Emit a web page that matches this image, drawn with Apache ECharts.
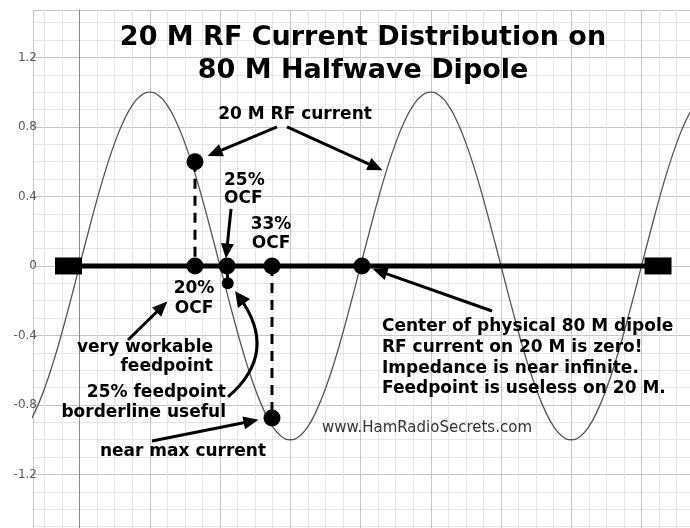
<!DOCTYPE html>
<html><head><meta charset="utf-8">
<script src="https://cdn.jsdelivr.net/npm/echarts@6/dist/echarts.min.js"></script>
<style>html,body{margin:0;padding:0;background:#fff}#c{width:690px;height:528px}</style>
</head><body><div id="c"></div>
<script>
// ---- data ----
const curveX = [-0.75,-0.625,-0.5,-0.375,-0.25,-0.125,0,0.125,0.25,0.375,0.5,0.625,0.75,0.875,1,1.125,1.25,1.375,1.5,1.625,1.75,1.875,2,2.125,2.25,2.375,2.5,2.625,2.75,2.875,3,3.125,3.25,3.375,3.5,3.625,3.75,3.875,4,4.125,4.25,4.375,4.5,4.625,4.75,4.875,5,5.125,5.25,5.375,5.5,5.625,5.75,5.875,6,6.125,6.25,6.375,6.5,6.625,6.75,6.875,7,7.125,7.25,7.375,7.5,7.625,7.75,7.875,8,8.125,8.25,8.375,8.5,8.625,8.75];
const curveY = [-0.924,-0.831,-0.707,-0.556,-0.383,-0.195,0,0.195,0.383,0.556,0.707,0.831,0.924,0.981,1,0.981,0.924,0.831,0.707,0.556,0.383,0.195,0,-0.195,-0.383,-0.556,-0.707,-0.831,-0.924,-0.981,-1,-0.981,-0.924,-0.831,-0.707,-0.556,-0.383,-0.195,0,0.195,0.383,0.556,0.707,0.831,0.924,0.981,1,0.981,0.924,0.831,0.707,0.556,0.383,0.195,0,-0.195,-0.383,-0.556,-0.707,-0.831,-0.924,-0.981,-1,-0.981,-0.924,-0.831,-0.707,-0.556,-0.383,-0.195,0,0.195,0.383,0.556,0.707,0.831,0.924];
const dipoleEndsX = [-0.157, 8.235];
const axisDotsX = [1.644, 2.10, 2.74, 4.02];
const upperDot = [1.644, 0.60];
const lowerDot = [2.74, -0.875];
const smallDot = [2.11, -0.10];
const yTickLabels = ['-1.2','-0.8','-0.4','0','0.4','0.8','1.2'];
// annotation arrows (start, end) in data units
const arrowsStraight = [
  [[2.811, 0.800], [1.922, 0.649]],
  [[2.954, 0.800], [4.215, 0.569]],
  [[2.157, 0.328], [2.095, 0.086]],
  [[0.690, -0.426], [1.174, -0.235]],
  [[1.032, -1.007], [2.443, -0.894]],
  [[5.872, -0.259], [4.272, -0.031]]
];
const arrowCurved = [[2.114, -0.754], [2.278, -0.181]];

// ---- view ----
const xMin = -0.662, xMax = 8.690, yMin = -1.508, yMax = 1.473;
const FONT = '"DejaVu Sans", Verdana, sans-serif';

const chart = echarts.init(document.getElementById('c'), null, {renderer: 'canvas'});

const curveData = curveX.map((x, i) => [x, curveY[i]]);
const markData = arrowsStraight.map(a => [{coord: a[0]}, {coord: a[1]}]);

function txt(x, y, text, opts) {
  return {
    type: 'text', x: x, y: y, z: 100, silent: true,
    style: Object.assign({
      text: text, font: 'bold 17px ' + FONT, fill: '#000',
      align: 'center', verticalAlign: 'middle', lineHeight: 20
    }, opts || {})
  };
}

const option = {
  animation: false,
  backgroundColor: '#fff',
  grid: {left: 33, top: 10, right: 0, bottom: 0, containLabel: false, outerBoundsMode: 'none'},
  xAxis: {
    type: 'value', min: xMin, max: xMax, splitNumber: 9, minInterval: 1, maxInterval: 1,
    axisLine: {show: false}, axisTick: {show: false}, axisLabel: {show: false},
    splitLine: {show: true, lineStyle: {color: '#c6c6c6', width: 1}},
    minorTick: {show: false, splitNumber: 4},
    minorSplitLine: {show: true, lineStyle: {color: '#e6e6e6', width: 1}}
  },
  yAxis: {
    type: 'value', min: yMin, max: yMax, minInterval: 0.4, maxInterval: 0.4,
    axisLine: {show: true, lineStyle: {color: '#8a8a8a', width: 1}},
    axisTick: {show: false},
    axisLabel: {
      show: true, margin: -4, color: '#5a5a62', fontSize: 12, fontFamily: FONT,
      showMinLabel: false, showMaxLabel: false,
      formatter: v => {
        const s = String(+(+v).toFixed(1));
        return yTickLabels.indexOf(s) >= 0 ? s : '';
      }
    },
    splitLine: {show: true, lineStyle: {color: '#c6c6c6', width: 1}},
    minorTick: {show: false, splitNumber: 4},
    minorSplitLine: {show: true, lineStyle: {color: '#e6e6e6', width: 1}}
  },
  series: [
    {
      type: 'line', name: 'curve', data: curveData, smooth: true, showSymbol: false, symbol: 'none',
      lineStyle: {color: '#555', width: 1.3}, z: 2, silent: true
    },
    {
      type: 'line', name: 'dipole', data: dipoleEndsX.map(x => [x, 0]),
      symbol: 'rect', symbolSize: [27, 17], showSymbol: true,
      itemStyle: {color: '#000', opacity: 1}, lineStyle: {color: '#000', width: 5}, z: 3, silent: true
    },
    {
      type: 'line', name: 'dash1', data: [upperDot, [upperDot[0], 0]], symbol: 'none',
      lineStyle: {color: '#000', width: 3, type: [10, 7]}, z: 3, silent: true
    },
    {
      type: 'line', name: 'dash2', data: [[lowerDot[0], 0], lowerDot], symbol: 'none',
      lineStyle: {color: '#000', width: 3, type: [10, 7]}, z: 3, silent: true
    },
    {
      type: 'line', name: 'seg', data: [[axisDotsX[1], 0], smallDot], symbol: 'none',
      lineStyle: {color: '#000', width: 3}, z: 3, silent: true
    },
    {
      type: 'scatter', name: 'dots', data: axisDotsX.map(x => [x, 0]).concat([upperDot, lowerDot]),
      symbolSize: 17, itemStyle: {color: '#000', opacity: 1}, z: 4, silent: true,
      markLine: {
        silent: true, symbol: ['none', 'triangle'], symbolSize: [13, 15],
        label: {show: false}, emphasis: {disabled: true},
        lineStyle: {color: '#000', width: 3, type: 'solid', opacity: 1},
        data: markData
      }
    },
    {
      type: 'scatter', name: 'small', data: [smallDot], symbolSize: [12, 12],
      itemStyle: {color: '#000', opacity: 1}, z: 4, silent: true
    },
    {
      type: 'lines', name: 'curvedArrow', coordinateSystem: 'cartesian2d', silent: true, z: 5,
      symbol: ['none', 'triangle'], symbolSize: [13, 15],
      lineStyle: {color: '#000', width: 3, opacity: 1, curveness: -0.46},
      itemStyle: {color: '#000'},
      data: [{coords: arrowCurved}]
    }
  ],
  graphic: [
    txt(363, 38, '20 M RF Current Distribution on', {font: 'bold 27px ' + FONT}),
    txt(363, 71, '80 M Halfwave Dipole', {font: 'bold 27px ' + FONT}),
    txt(295, 115, '20 M RF current'),
    txt(224, 189.5, '25%\nOCF', {align: 'left', lineHeight: 18}),
    txt(271, 234, '33%\nOCF', {lineHeight: 19.5}),
    txt(194, 299, '20%\nOCF'),
    txt(213, 357.5, 'very workable\nfeedpoint', {align: 'right', lineHeight: 19}),
    txt(226, 403, '25% feedpoint\nborderline useful', {align: 'right'}),
    txt(183, 452, 'near max current'),
    txt(382, 358, 'Center of physical 80 M dipole\nRF current on 20 M is zero!\nImpedance is near infinite.\nFeedpoint is useless on 20 M.', {align: 'left', lineHeight: 20.7}),
    txt(322, 428, 'www.HamRadioSecrets.com', {align: 'left', font: '15px ' + FONT, fill: '#333'})
  ]
};
chart.setOption(option);
</script>
</body></html>
